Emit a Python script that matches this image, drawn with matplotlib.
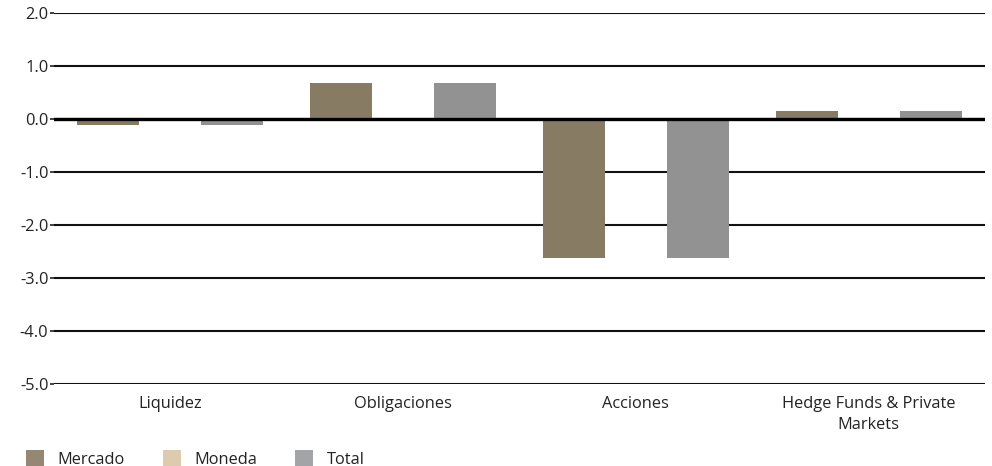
import numpy as np
import matplotlib.pyplot as plt
from matplotlib.patches import Patch

plt.rcParams['font.family'] = ['Open Sans', 'DejaVu Sans']

# Datos
categorias = ['Liquidez', 'Obligaciones', 'Acciones', 'Hedge Funds & Private\nMarkets']
mercado = [-0.11, 0.68, -2.62, 0.15]
moneda = [0.0, 0.0, 0.0, 0.0]
total = [-0.11, 0.68, -2.62, 0.15]

series = ['Mercado', 'Moneda', 'Total']
colores_barra = ['#887b64', '#ddcbb0', '#929292']
colores_leyenda = ['#968674', '#ddcbb0', '#a3a4a8']

fig = plt.figure(figsize=(9.92, 4.66), dpi=100)
ax = fig.add_axes([0.0544, 0.176, 0.9386, 0.796])

x = np.arange(len(categorias))
ancho = 0.8 / 3
for i, vals in enumerate([mercado, moneda, total]):
    ax.bar(x + (i - 1) * ancho, vals, width=ancho, color=colores_barra[i], zorder=2)

ax.set_xlim(-0.5, len(categorias) - 0.5)
ax.set_ylim(-5.0, 2.0)
ax.set_yticks(np.arange(-5, 2.1, 1.0))
ax.set_yticklabels([f'{v:.1f}' for v in np.arange(-5, 2.1, 1.0)])
ax.yaxis.grid(True, color='#111111', linewidth=1.5, zorder=1)
ax.axhline(0, color='black', linewidth=2.4, zorder=3)

ax.set_xticks(x)
ax.set_xticklabels(categorias, linespacing=1.35)
ax.tick_params(axis='x', length=0, pad=9, labelsize=11.8, colors='#222222')
ax.tick_params(axis='y', length=3, width=1.2, pad=1, labelsize=11.8, colors='#222222')
for s in ax.spines.values():
    s.set_visible(False)

handles = [Patch(facecolor=c, edgecolor='none') for c in colores_leyenda]
fig.legend(handles, series, loc='lower left', bbox_to_anchor=(0.011, -0.035), ncol=3,
           frameon=False, fontsize=11.8, handlelength=1.1, handleheight=1.1,
           columnspacing=2.3, handletextpad=0.85, labelcolor='#222222')

fig.savefig('out.png', dpi=100)
